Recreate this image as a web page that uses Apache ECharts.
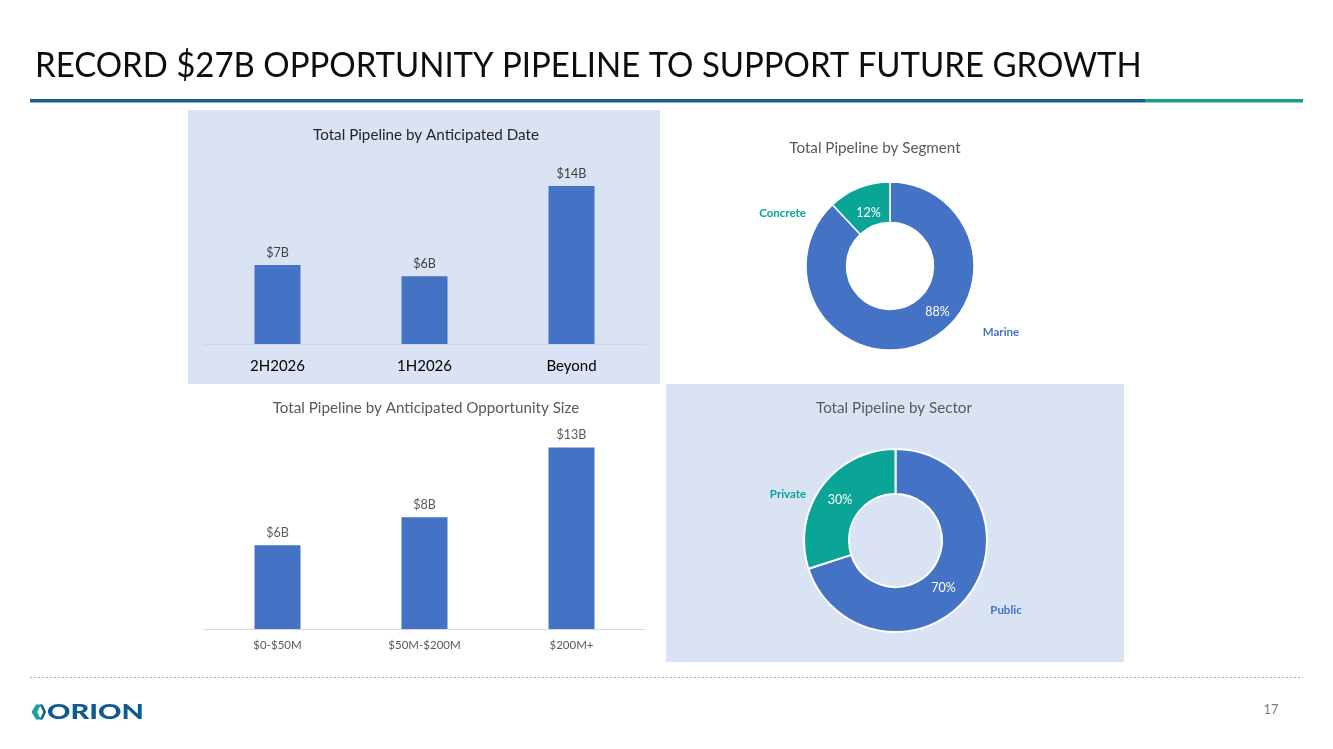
<!DOCTYPE html>
<html>
<head>
<meta charset="utf-8">
<script src="https://cdn.jsdelivr.net/npm/echarts@6/dist/echarts.min.js"></script>
<style>
html,body{margin:0;padding:0;background:#fff;}
#main{width:1333px;height:749px;}
</style>
</head>
<body>
<div id="main"></div>
<script>
// ---------- data ----------
const dateCategories = ['2H2026', '1H2026', 'Beyond'];
const dateValues = [7, 6, 14];
const sizeCategories = ['$0-$50M', '$50M-$200M', '$200M+'];
const sizeValues = [6, 8, 13];
const segmentNames = ['Marine', 'Concrete'];
const segmentValues = [88, 12];
const sectorNames = ['Public', 'Private'];
const sectorValues = [70, 30];

const pageTitle = 'RECORD $27B OPPORTUNITY PIPELINE TO SUPPORT FUTURE GROWTH';
const chartTitles = ['Total Pipeline by Anticipated Date', 'Total Pipeline by Segment',
  'Total Pipeline by Anticipated Opportunity Size', 'Total Pipeline by Sector'];

// ---------- styling / layout ----------
const BLUE = '#4472c4';
const TEAL = '#0aa597';
const PANEL = '#dae3f3';
const FONT = 'Lato, "Open Sans", sans-serif';

function measure(text, weight, size) {
  const c = document.createElement('canvas').getContext('2d');
  c.font = weight + ' ' + size + 'px Lato';
  return c.measureText(text).width;
}
function fit(text, weight, width, capH) {
  const size = 100 * width / measure(text, weight, 100);
  return { size: size, scaleY: capH / (0.7165 * size) };
}
const tFit = fit(pageTitle, 400, 1107, 25);
const lFit = fit('ORION', 900, 97, 15);

const donut1 = { c: [890, 266], r: [43.5, 84],
  pct: [[47.5, 45.5], [-21.5, -53.5]], name: [[111, 66], [-107.5, -53]] };
const donut2 = { c: [895.5, 540.5], r: [46.5, 91.5],
  pct: [[48, 47.5], [-55.5, -40.5]], name: [[110.5, 69.5], [-107.5, -46]] };

function layoutFn(d, key) {
  return function (p) {
    const o = d[key][p.dataIndex];
    return { x: d.c[0] + o[0], y: d.c[1] + o[1], align: 'center', verticalAlign: 'middle' };
  };
}
const sliceColors = [BLUE, TEAL];

function donutSeries(d, names, values, border) {
  const ring = {
    type: 'pie', center: d.c, radius: d.r, startAngle: 90, clockwise: true,
    silent: true, animation: false,
    itemStyle: { borderColor: '#ffffff', borderWidth: border },
    label: { show: true, position: 'inside', formatter: '{d}%', color: '#ffffff',
      fontSize: 12.5, fontFamily: FONT },
    labelLine: { show: false },
    labelLayout: layoutFn(d, 'pct'),
    data: names.map((n, i) => ({ name: n, value: values[i], itemStyle: { color: sliceColors[i] } }))
  };
  const nameSeries = {
    type: 'pie', center: d.c, radius: d.r, startAngle: 90, clockwise: true,
    silent: true, animation: false,
    itemStyle: { color: 'rgba(0,0,0,0)' },
    label: { show: true, position: 'inside', formatter: '{b}', fontSize: 11.5,
      fontWeight: 'bold', fontFamily: FONT },
    labelLine: { show: false },
    labelLayout: layoutFn(d, 'name'),
    data: names.map((n, i) => ({ name: n, value: values[i],
      itemStyle: { color: 'rgba(0,0,0,0)' }, label: { color: sliceColors[i] } }))
  };
  return [ring, nameSeries];
}

const TS = 15.2; // chart title font size
const graphics = [
  { type: 'rect', shape: { x: 188, y: 110, width: 472, height: 274 }, style: { fill: PANEL }, z: -10, silent: true },
  { type: 'rect', shape: { x: 666, y: 384, width: 458, height: 278 }, style: { fill: PANEL }, z: -10, silent: true },
  { type: 'text', x: 35, y: 66, scaleY: tFit.scaleY, style: { text: pageTitle, font: '400 ' + tFit.size + 'px Lato',
      fill: '#0d0d0d', textAlign: 'left', textVerticalAlign: 'middle' } },
  { type: 'rect', shape: { x: 30, y: 99, width: 1115, height: 3.5 }, style: { fill: '#1a5e8e' } },
  { type: 'rect', shape: { x: 1145, y: 99, width: 158, height: 3.5 }, style: { fill: '#1b9c90' } },
  { type: 'text', x: 426, y: 135, style: { text: chartTitles[0], font: TS + 'px ' + FONT, fill: '#262626', textAlign: 'center', textVerticalAlign: 'middle' } },
  { type: 'text', x: 875, y: 148, style: { text: chartTitles[1], font: TS + 'px ' + FONT, fill: '#595959', textAlign: 'center', textVerticalAlign: 'middle' } },
  { type: 'text', x: 426, y: 408, style: { text: chartTitles[2], font: TS + 'px ' + FONT, fill: '#595959', textAlign: 'center', textVerticalAlign: 'middle' } },
  { type: 'text', x: 894, y: 408, style: { text: chartTitles[3], font: TS + 'px ' + FONT, fill: '#595959', textAlign: 'center', textVerticalAlign: 'middle' } },
  { type: 'line', shape: { x1: 30, y1: 677.5, x2: 1303, y2: 677.5 }, style: { stroke: '#b0b0b0', lineWidth: 1, lineDash: [2, 2] } },
  { type: 'polygon', shape: { points: [[36, 704.5], [41, 704.5], [37.2, 712], [41, 719.5], [36, 719.5], [31.5, 712]] }, style: { fill: '#17a79a' } },
  { type: 'polygon', shape: { points: [[39.8, 704.5], [42.5, 704.5], [46, 712], [42.5, 719.5], [39.8, 719.5], [43.3, 712]] }, style: { fill: '#0e5a93' } },
  { type: 'text', x: 47, y: 712.5, scaleY: lFit.scaleY, style: { text: 'ORION', font: '900 ' + lFit.size + 'px Lato',
      fill: '#0e5a93', textAlign: 'left', textVerticalAlign: 'middle' } },
  { type: 'text', x: 1271, y: 710, style: { text: '17', font: '13px ' + FONT, fill: '#7f7f7f', textAlign: 'center', textVerticalAlign: 'middle' } }
];

const chart = echarts.init(document.getElementById('main'), null, { renderer: 'canvas' });
chart.setOption({
  animation: false,
  backgroundColor: '#ffffff',
  textStyle: { fontFamily: FONT },
  graphic: graphics,
  grid: [
    { left: 204, width: 441, top: 186, height: 158 },
    { left: 204, width: 441, top: 447.6, height: 181.4 }
  ],
  xAxis: [
    { type: 'category', gridIndex: 0, data: dateCategories,
      axisLine: { lineStyle: { color: '#d0d6e2', width: 1 } }, axisTick: { show: false },
      axisLabel: { color: '#000000', fontSize: 15, margin: 15, fontFamily: FONT } },
    { type: 'category', gridIndex: 1, data: sizeCategories,
      axisLine: { lineStyle: { color: '#d9d9d9', width: 1 } }, axisTick: { show: false },
      axisLabel: { color: '#595959', fontSize: 11.5, margin: 10, fontFamily: FONT } }
  ],
  yAxis: [
    { type: 'value', gridIndex: 0, min: 0, max: 14, show: false, splitLine: { show: false } },
    { type: 'value', gridIndex: 1, min: 0, max: 13, show: false, splitLine: { show: false } }
  ],
  series: [
    { type: 'bar', xAxisIndex: 0, yAxisIndex: 0, data: dateValues, barWidth: 46,
      itemStyle: { color: BLUE }, silent: true,
      label: { show: true, position: 'top', distance: 6, formatter: '${c}B', color: '#404040', fontSize: 12.5, fontFamily: FONT } },
    { type: 'bar', xAxisIndex: 1, yAxisIndex: 1, data: sizeValues, barWidth: 46,
      itemStyle: { color: BLUE }, silent: true,
      label: { show: true, position: 'top', distance: 6, formatter: '${c}B', color: '#595959', fontSize: 12.5, fontFamily: FONT } }
  ].concat(donutSeries(donut1, segmentNames, segmentValues, 1.5))
   .concat(donutSeries(donut2, sectorNames, sectorValues, 2))
});
</script>
</body>
</html>
